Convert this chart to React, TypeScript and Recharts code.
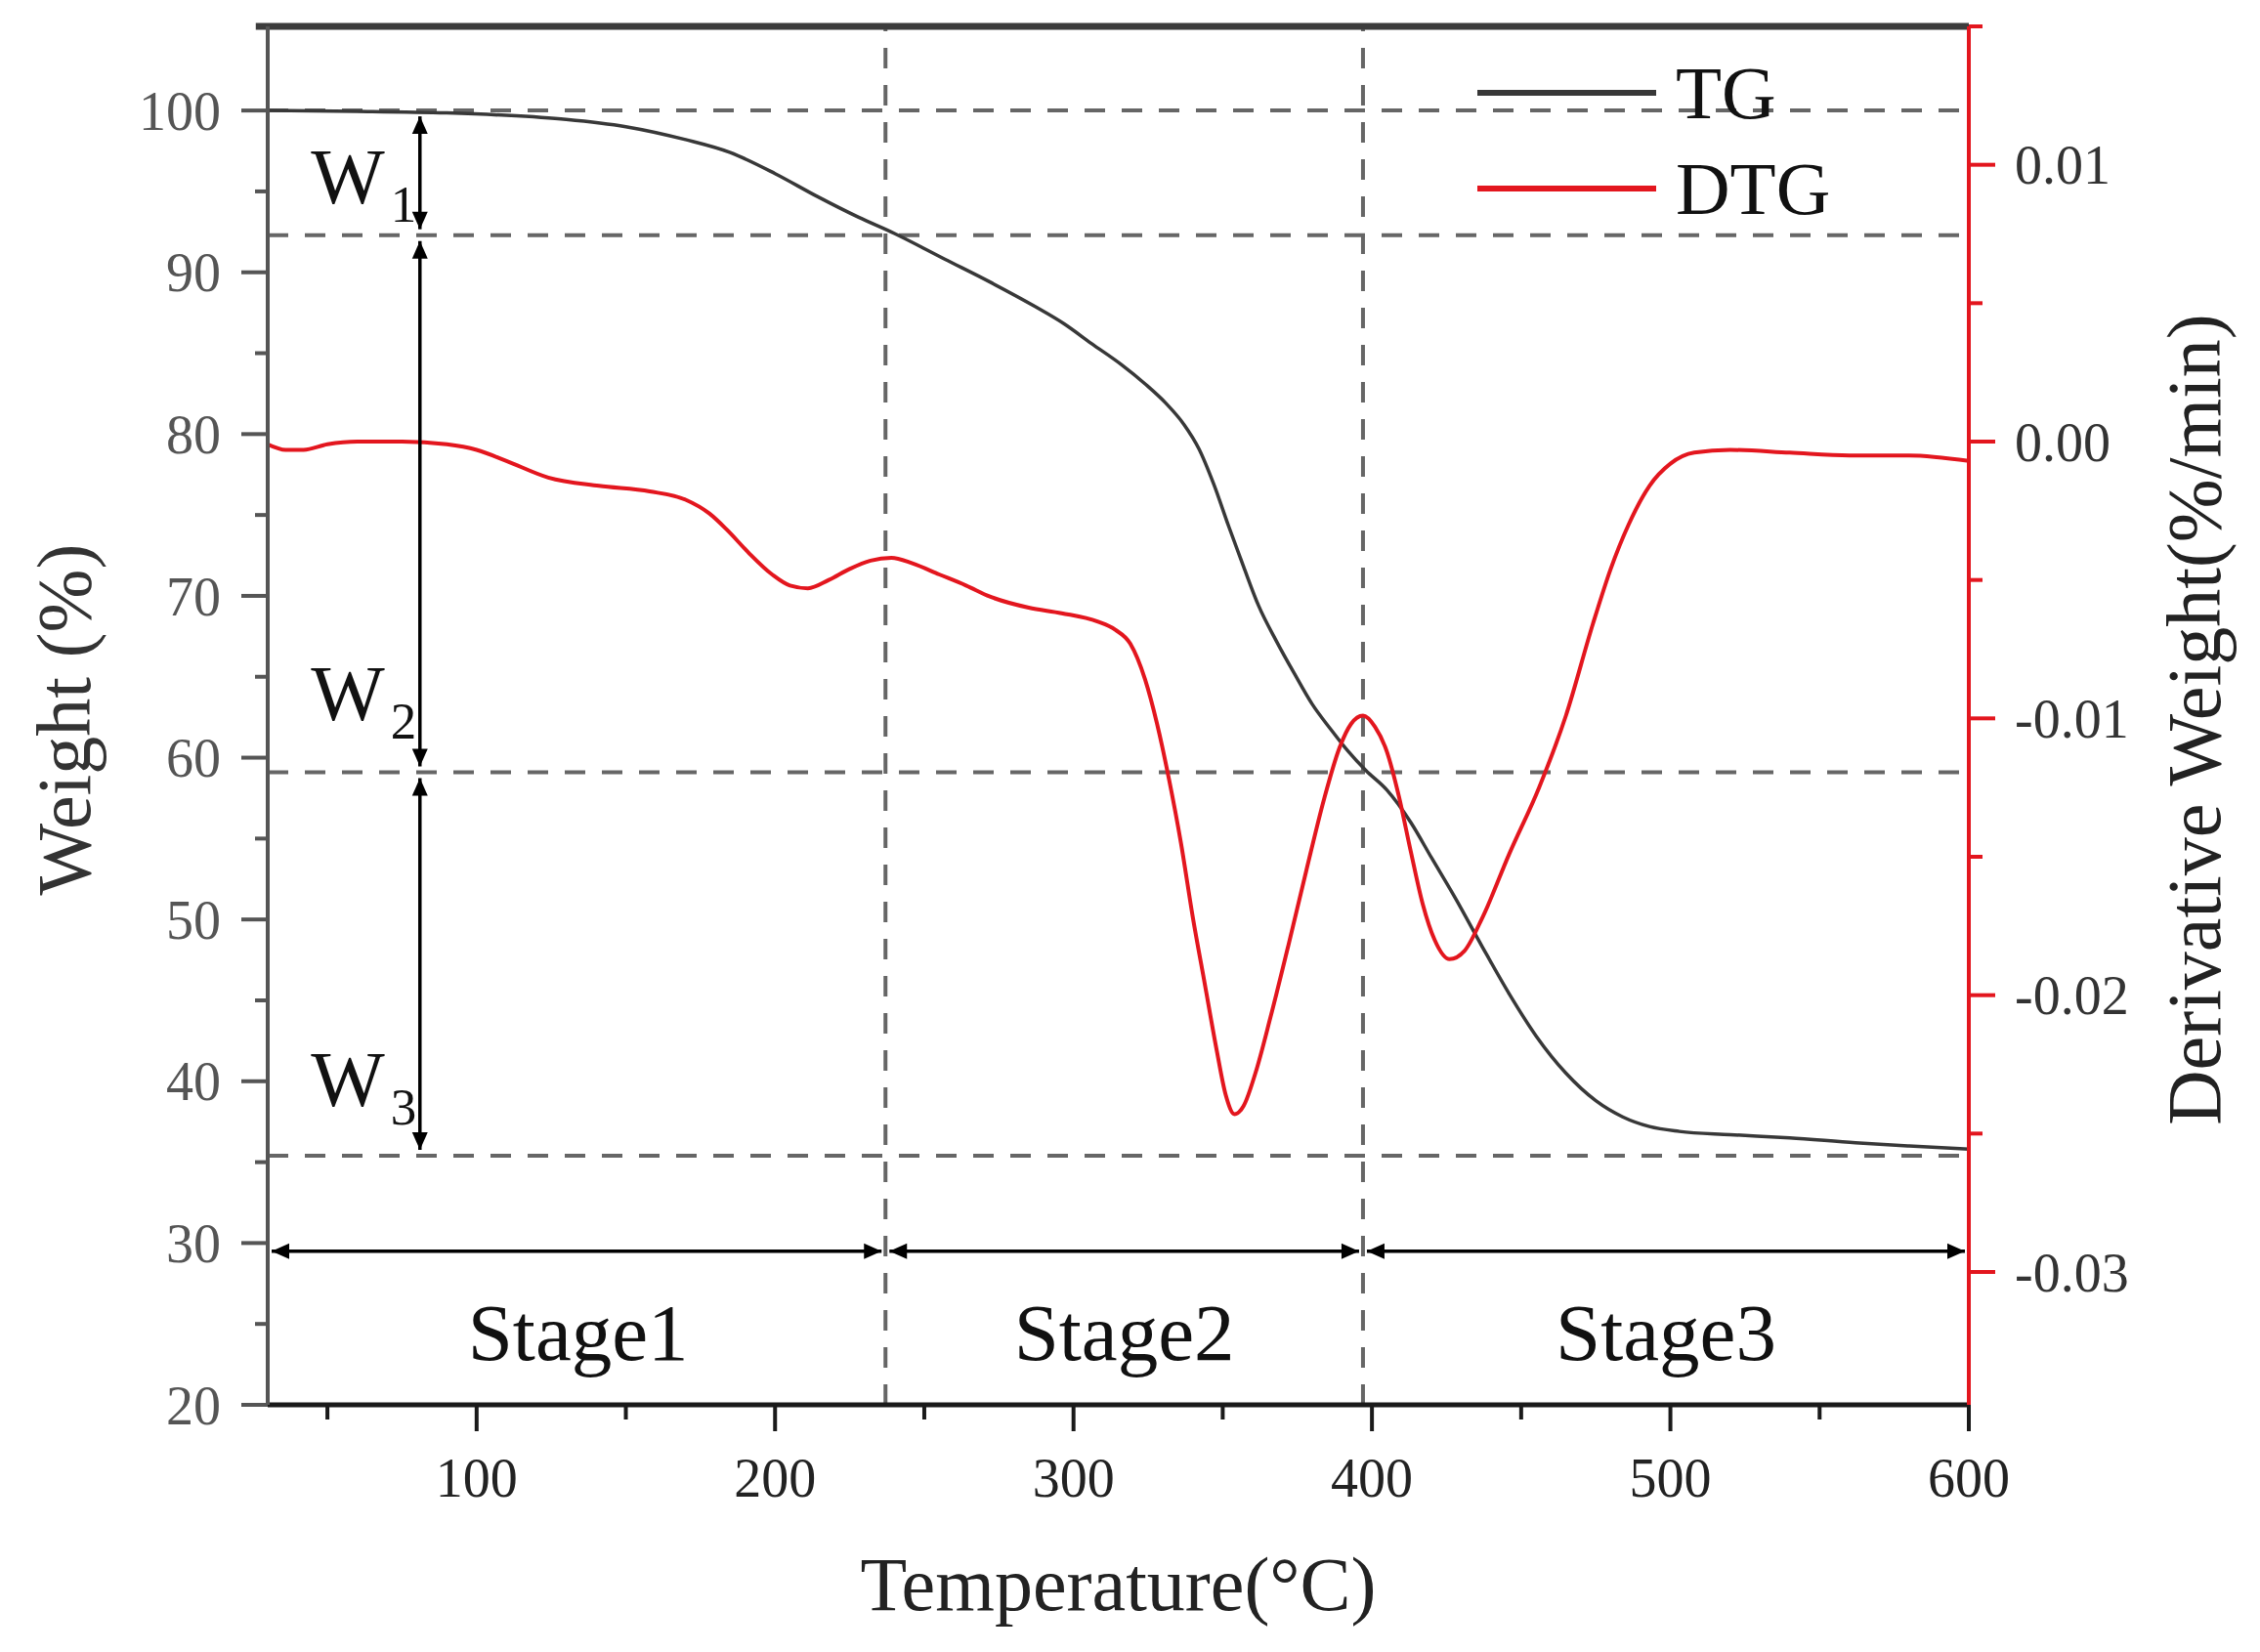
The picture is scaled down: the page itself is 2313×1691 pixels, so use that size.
import React from 'react';
import {
  ComposedChart,
  Line,
  XAxis,
  YAxis,
  ReferenceLine,
  ReferenceDot,
  Legend,
  Label,
} from 'recharts';

const FONT = '"Liberation Serif", "Times New Roman", Times, serif';

// ---------- data ----------
const tgTemps = [30, 60, 90, 110, 130, 150, 170, 185, 200, 214, 228, 240, 257, 272, 287, 297, 306, 316, 324, 331, 337, 342, 347, 352, 357, 362, 368, 374, 380, 386, 392, 398, 405, 413, 420, 428, 437, 446, 455, 465, 475, 484, 493, 503, 520, 540, 562, 580, 600];
const tgWeights = [100.0, 99.95, 99.85, 99.7, 99.45, 99.0, 98.2, 97.4, 96.1, 94.7, 93.4, 92.4, 90.8, 89.4, 87.9, 86.8, 85.6, 84.3, 83.1, 81.9, 80.6, 79.1, 76.9, 74.3, 71.8, 69.4, 67.2, 65.2, 63.3, 61.8, 60.4, 59.2, 58.0, 56.0, 53.8, 51.3, 48.3, 45.4, 42.8, 40.5, 38.8, 37.8, 37.2, 36.9, 36.7, 36.5, 36.2, 36.0, 35.8];

const dtgTemps = [30, 36, 42, 50, 60, 75, 90, 100, 110, 124, 141, 158, 170, 178, 184, 191, 199, 205, 211, 218, 225, 232, 239, 246, 255, 264, 272, 285, 296, 308, 314, 319, 324, 328, 332, 336, 340, 344, 348, 351, 354, 357, 361, 366, 372, 378, 384, 389, 393, 397, 401, 405, 409, 413, 417, 421, 426, 431, 437, 446, 456, 465, 474, 480, 486, 493, 500, 508, 520, 540, 560, 580, 600];
const dtgValues = [-0.0001, -0.0003, -0.0003, -0.0001, 0.0, 0.0, -0.0001, -0.0003, -0.0007, -0.0013, -0.0016, -0.0018, -0.0021, -0.0026, -0.0032, -0.004, -0.0048, -0.0052, -0.0053, -0.005, -0.0046, -0.0043, -0.0042, -0.0044, -0.0048, -0.0052, -0.0056, -0.006, -0.0062, -0.0065, -0.0068, -0.0073, -0.0086, -0.0102, -0.0122, -0.0145, -0.0172, -0.0196, -0.022, -0.0236, -0.0243, -0.024, -0.0228, -0.0208, -0.0182, -0.0155, -0.0129, -0.0111, -0.0102, -0.0099, -0.0103, -0.0112, -0.0128, -0.0148, -0.0167, -0.018, -0.0187, -0.0184, -0.0172, -0.0149, -0.0125, -0.0099, -0.0066, -0.0046, -0.003, -0.0016, -0.0008, -0.0004, -0.0003, -0.0004, -0.0005, -0.0005, -0.0007];

const seriesNames = ['TG', 'DTG'];

const xDomain = [30, 600];
const leftDomain = [20, 105.2];
const rightDomain = [-0.0348, 0.015];

const xTicks = [50, 100, 150, 200, 250, 300, 350, 400, 450, 500, 550, 600];
const leftTicks = [20, 25, 30, 35, 40, 45, 50, 55, 60, 65, 70, 75, 80, 85, 90, 95, 100];
const rightTicks = [0.015, 0.01, 0.005, 0, -0.005, -0.01, -0.015, -0.02, -0.025, -0.03];

// annotation values
const stageBounds = [30, 237, 397, 600];
const stageNames = ['Stage1', 'Stage2', 'Stage3'];
const stageLabelTemps = [134, 317, 498.5];
const stageLabelWeight = 22.8;
const stageArrowWeight = 29.5;

const wLevels = [100, 92.3, 59.1, 35.4];
const wArrowTemp = 81;
const wLabelTemp = 44.5;
const wLabelWeights = [94.3, 62.3, 38.5];
const wLabelSubs = ['1', '2', '3'];
const frameTop = 105.2;

const tgData = tgTemps.map((t, i) => ({ t, w: tgWeights[i] }));
const dtgData = dtgTemps.map((t, i) => ({ t, d: dtgValues[i] }));

// ---------- styling constants ----------
const TG_COLOR = '#383838';
const DTG_COLOR = '#e3161e';
const DASH = '#666666';

const L_TICK = 27;
const L_MINOR = 13;
const L_MARGIN = 21;
const X_TICK = 27;
const X_MINOR = 15;
const X_MARGIN = 27;
const R_TICK = 27;
const R_MINOR = 14;
const R_MARGIN = 20;

const LeftTick = (props: any) => {
  const { x, y, payload } = props;
  const v = payload.value;
  const major = Math.abs(v % 10) < 1e-6;
  const axisX = x + L_TICK + L_MARGIN;
  return (
    <g>
      <line x1={axisX - (major ? L_TICK : L_MINOR)} x2={axisX} y1={y} y2={y} stroke="#555" strokeWidth={4} />
      {major && (
        <text x={x} y={y} dy="0.35em" textAnchor="end" fontSize={56} fontFamily={FONT} fill="#555">
          {v}
        </text>
      )}
    </g>
  );
};

const BottomTick = (props: any) => {
  const { x, y, payload } = props;
  const v = payload.value;
  const major = Math.abs(v % 100) < 1e-6;
  const axisY = y - X_TICK - X_MARGIN;
  return (
    <g>
      <line x1={x} x2={x} y1={axisY} y2={axisY + (major ? X_TICK : X_MINOR)} stroke="#1a1a1a" strokeWidth={4} />
      {major && (
        <text x={x} y={y} dy="0.71em" textAnchor="middle" fontSize={56} fontFamily={FONT} fill="#222">
          {v}
        </text>
      )}
    </g>
  );
};

const RightTick = (props: any) => {
  const { x, y, payload } = props;
  const v = payload.value;
  const major = Math.abs(Math.round(v * 1000)) % 10 === 0;
  const axisX = x - R_TICK - R_MARGIN;
  return (
    <g>
      <line x1={axisX} x2={axisX + (major ? R_TICK : R_MINOR)} y1={y} y2={y} stroke={DTG_COLOR} strokeWidth={4} />
      {major && (
        <text x={x} y={y} dy="0.35em" textAnchor="start" fontSize={56} fontFamily={FONT} fill="#333">
          {v.toFixed(2)}
        </text>
      )}
    </g>
  );
};

const HEAD_LEN = 18;
const HEAD_HALF = 8;
const arrowShape = (gap: number) => (p: any) => {
  const { x1, y1, x2, y2 } = p;
  const dx = x2 - x1;
  const dy = y2 - y1;
  const len = Math.hypot(dx, dy) || 1;
  const ux = dx / len;
  const uy = dy / len;
  const ax = x1 + ux * gap;
  const ay = y1 + uy * gap;
  const bx = x2 - ux * gap;
  const by = y2 - uy * gap;
  const head = (tx: number, ty: number, dx2: number, dy2: number) => {
    const baseX = tx - dx2 * HEAD_LEN;
    const baseY = ty - dy2 * HEAD_LEN;
    const px = -dy2 * HEAD_HALF;
    const py = dx2 * HEAD_HALF;
    return `${tx},${ty} ${baseX + px},${baseY + py} ${baseX - px},${baseY - py}`;
  };
  return (
    <g>
      <line x1={ax} y1={ay} x2={bx} y2={by} stroke="#000" strokeWidth={3.5} />
      <polygon points={head(ax, ay, -ux, -uy)} fill="#000" />
      <polygon points={head(bx, by, ux, uy)} fill="#000" />
    </g>
  );
};

const renderLegend = (props: any) => {
  const payload = [...(props.payload || [])].sort(
    (a: any, b: any) => seriesNames.indexOf(a.value) - seriesNames.indexOf(b.value)
  );
  return (
    <svg width={420} height={220} style={{ display: 'block', overflow: 'visible' }}>
      {payload.map((entry: any, i: number) => {
        const ly = 55 + i * 98;
        return (
          <g key={entry.value}>
            <line x1={12} x2={195} y1={ly} y2={ly} stroke={entry.color} strokeWidth={6} />
            <text x={215} y={ly + 26} fontSize={77} fontFamily={FONT} fill="#111">
              {entry.value}
            </text>
          </g>
        );
      })}
    </svg>
  );
};

export default function App() {
  return (
    <div style={{ width: 2297, height: 1670, background: '#fff' }}>
      <ComposedChart width={2297} height={1670} margin={{ top: 19, right: 140, bottom: 90, left: 100 }}>
        <XAxis
          dataKey="t"
          type="number"
          domain={xDomain}
          allowDataOverflow
          ticks={xTicks}
          interval={0}
          height={150}
          tickSize={X_TICK}
          tickMargin={X_MARGIN}
          tickLine={false}
          tick={<BottomTick />}
          axisLine={{ stroke: '#1a1a1a', strokeWidth: 5 }}
        >
          <Label
            content={(p: any) => {
              const vb = p.viewBox;
              return (
                <text x={vb.x + vb.width / 2} y={vb.y + 210} textAnchor="middle" fontSize={78} fontFamily={FONT} fill="#222">
                  Temperature(°C)
                </text>
              );
            }}
          />
        </XAxis>
        <YAxis
          yAxisId="left"
          type="number"
          domain={leftDomain}
          allowDataOverflow
          ticks={leftTicks}
          interval={0}
          width={166}
          tickSize={L_TICK}
          tickMargin={L_MARGIN}
          tickLine={false}
          tick={<LeftTick />}
          axisLine={{ stroke: '#555', strokeWidth: 4 }}
        >
          <Label
            content={(p: any) => {
              const vb = p.viewBox;
              const cx = vb.x + vb.width - 182;
              const cy = vb.y + vb.height / 2 + 4;
              return (
                <text x={cx} y={cy} transform={`rotate(-90 ${cx} ${cy})`} textAnchor="middle" fontSize={78} fontFamily={FONT} fill="#333">
                  Weight (%)
                </text>
              );
            }}
          />
        </YAxis>
        <YAxis
          yAxisId="right"
          orientation="right"
          type="number"
          domain={rightDomain}
          allowDataOverflow
          ticks={rightTicks}
          interval={0}
          width={150}
          tickSize={R_TICK}
          tickMargin={R_MARGIN}
          tickLine={false}
          tick={<RightTick />}
          axisLine={{ stroke: DTG_COLOR, strokeWidth: 4 }}
        >
          <Label
            content={(p: any) => {
              const vb = p.viewBox;
              const cx = vb.x + 257;
              const cy = vb.y + vb.height / 2 + 4;
              return (
                <text x={cx} y={cy} transform={`rotate(-90 ${cx} ${cy})`} textAnchor="middle" fontSize={78} fontFamily={FONT} fill="#222">
                  Derivative Weight(%/min)
                </text>
              );
            }}
          />
        </YAxis>

        {wLevels.map((w) => (
          <ReferenceLine key={'h' + w} yAxisId="left" y={w} stroke={DASH} strokeWidth={4} strokeDasharray="21 17" />
        ))}
        {stageBounds.slice(1, -1).map((t) => (
          <ReferenceLine key={'v' + t} yAxisId="left" x={t} stroke={DASH} strokeWidth={4} strokeDasharray="21 17" />
        ))}

        <Line
          data={tgData}
          dataKey="w"
          name={seriesNames[0]}
          yAxisId="left"
          type="monotone"
          stroke={TG_COLOR}
          strokeWidth={3.5}
          dot={false}
          activeDot={false}
          isAnimationActive={false}
        />
        <Line
          data={dtgData}
          dataKey="d"
          name={seriesNames[1]}
          yAxisId="right"
          type="monotone"
          stroke={DTG_COLOR}
          strokeWidth={4}
          dot={false}
          activeDot={false}
          isAnimationActive={false}
        />

        {wLevels.slice(0, -1).map((w, i) => (
          <ReferenceLine
            key={'va' + i}
            yAxisId="left"
            segment={[
              { x: wArrowTemp, y: w },
              { x: wArrowTemp, y: wLevels[i + 1] },
            ]}
            shape={arrowShape(6)}
          />
        ))}
        {stageBounds.slice(0, -1).map((t, i) => (
          <ReferenceLine
            key={'ha' + i}
            yAxisId="left"
            segment={[
              { x: t, y: stageArrowWeight },
              { x: stageBounds[i + 1], y: stageArrowWeight },
            ]}
            shape={arrowShape(4)}
          />
        ))}

        {stageNames.map((name, i) => (
          <ReferenceDot
            key={name}
            yAxisId="left"
            x={stageLabelTemps[i]}
            y={stageLabelWeight}
            r={1}
            shape={(p: any) => (
              <text x={p.cx} y={p.cy} textAnchor="middle" fontSize={83} fontFamily={FONT} fill="#111">
                {name}
              </text>
            )}
          />
        ))}
        {wLabelSubs.map((s, i) => (
          <ReferenceDot
            key={'w' + s}
            yAxisId="left"
            x={wLabelTemp}
            y={wLabelWeights[i]}
            r={1}
            shape={(p: any) => (
              <text x={p.cx} y={p.cy} fontSize={80} fontFamily={FONT} fill="#111">
                W
                <tspan fontSize={53} dx={6} dy={19}>
                  {s}
                </tspan>
              </text>
            )}
          />
        ))}

        <ReferenceLine
          yAxisId="left"
          ifOverflow="visible"
          segment={[
            { x: 26, y: frameTop },
            { x: 600, y: frameTop },
          ]}
          stroke="#3c3c3c"
          strokeWidth={7}
        />

        <Legend
          layout="horizontal"
          verticalAlign="middle"
          align="center"
          wrapperStyle={{ left: 1492, top: 32, width: 420, height: 220 }}
          content={renderLegend}
        />
      </ComposedChart>
    </div>
  );
}
